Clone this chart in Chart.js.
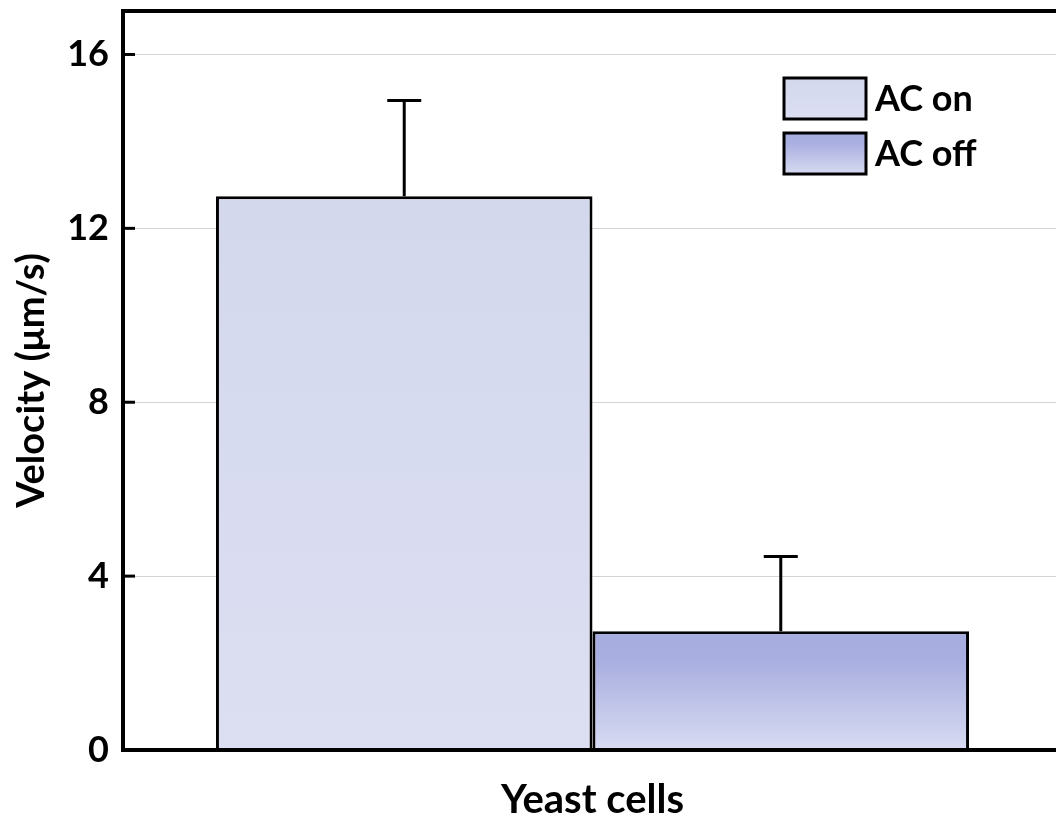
<!DOCTYPE html>
<html>
<head>
<meta charset="utf-8">
<script src="https://cdn.jsdelivr.net/npm/chart.js@4/dist/chart.umd.min.js"></script>
<style>
  html, body { margin: 0; padding: 0; background: #fff; overflow: hidden; }
  #wrap { width: 1066px; height: 819px; }
</style>
</head>
<body>
<div id="wrap"><canvas id="myChart" width="1066" height="819"></canvas></div>
<script>
// data
const categories = ["Yeast cells"];
const seriesNames = ["AC on", "AC off"];
const velocity = [12.74, 2.73];
const errors = [2.2, 1.72];
const yTicks = [0, 4, 8, 12, 16];

const FONT = "Lato, 'DejaVu Sans', sans-serif";

// top / bottom colours of each bar's gradient
const gradTop = ["#d4d8ed", "#a6acdf"];
const gradBottom = ["#dcdff2", "#d8dbf2"];

function makeGradient(c, y0, y1, i) {
    let g = c.createLinearGradient(0, y0, 0, y1);
    g.addColorStop(0, gradTop[i]);
    if (i === 1) g.addColorStop(0.25, "#a9afe0");
    g.addColorStop(1, gradBottom[i]);
    return g;
}

function barFill(context) {
    let chart = context.chart;
    let i = context.datasetIndex;
    if (!chart.chartArea || !chart.scales.y) return gradTop[i];
    let y = chart.scales.y;
    return makeGradient(chart.ctx, y.getPixelForValue(velocity[i]), y.getPixelForValue(0), i);
}

// frame, inward ticks, error bars and legend
const extras = {
    id: "extras",
    afterDatasetsDraw(chart) {
        let c = chart.ctx;
        let y = chart.scales.y;
        c.save();
        c.strokeStyle = "#000";
        c.lineWidth = 3;
        chart.data.datasets.forEach((ds, i) => {
            let bar = chart.getDatasetMeta(i).data[0];
            let top = y.getPixelForValue(velocity[i] + errors[i]);
            c.beginPath();
            c.moveTo(bar.x, bar.y);
            c.lineTo(bar.x, top);
            c.moveTo(bar.x - 17, top);
            c.lineTo(bar.x + 17, top);
            c.stroke();
        });
        c.restore();
    },
    afterDraw(chart) {
        let c = chart.ctx;
        let a = chart.chartArea;
        let y = chart.scales.y;
        c.save();
        c.strokeStyle = "#000";
        c.lineWidth = 4;
        c.strokeRect(a.left, a.top, a.right - a.left, a.bottom - a.top);
        c.lineWidth = 3;
        yTicks.forEach(t => {
            let py = y.getPixelForValue(t);
            c.beginPath();
            c.moveTo(a.left, py);
            c.lineTo(a.left + 12, py);
            c.stroke();
        });

        // legend
        let bx = 784, bw = 82, bh = 41;
        let bys = [78, 133];
        c.font = "bold 36px " + FONT;
        c.textBaseline = "middle";
        c.fillStyle = "#000";
        seriesNames.forEach((name, i) => {
            let by = bys[i];
            c.fillStyle = makeGradient(c, by, by + bh, i);
            c.fillRect(bx, by, bw, bh);
            c.lineWidth = 3;
            c.strokeStyle = "#000";
            c.strokeRect(bx, by, bw, bh);
            c.fillStyle = "#000";
            c.fillText(name, bx + bw + 9, by + bh / 2 + 1);
        });
        c.restore();
    }
};

new Chart("myChart", {
    type: "bar",
    data: {
        labels: categories,
        datasets: seriesNames.map((name, i) => ({
            label: name,
            data: [velocity[i]],
            backgroundColor: barFill,
            borderColor: "#000",
            borderWidth: 3
        }))
    },
    options: {
        responsive: false,
        animation: false,
        layout: { padding: { top: 11, left: 0, right: 4, bottom: 0 } },
        categoryPercentage: 0.802,
        barPercentage: 1.0,
        plugins: {
            legend: { display: false },
            tooltip: { enabled: false }
        },
        scales: {
            x: {
                grid: { display: false, drawTicks: false },
                border: { display: false },
                ticks: {
                    color: "#000",
                    font: { family: FONT, size: 40, weight: "bold" },
                    padding: 26
                },
                afterFit(scale) {
                    scale.height = 69;
                    scale.paddingLeft = 0;
                    scale.paddingRight = 0;
                }
            },
            y: {
                min: 0,
                max: 17,
                ticks: {
                    stepSize: 4,
                    color: "#000",
                    padding: 14,
                    font: { family: FONT, size: 36, weight: "bold" }
                },
                afterBuildTicks(scale) {
                    scale.ticks = yTicks.map(v => ({ value: v }));
                },
                grid: { color: "#d4d4d4", lineWidth: 1, drawTicks: false },
                border: { display: false },
                title: {
                    display: true,
                    text: "Velocity (μm/s)",
                    color: "#000",
                    font: { family: FONT, size: 38, weight: "bold" },
                    padding: { top: 9, bottom: 0 }
                },
                afterFit(scale) {
                    scale.width = 123;
                    scale.paddingTop = 0;
                    scale.paddingBottom = 0;
                }
            }
        }
    },
    plugins: [extras]
});
</script>
</body>
</html>
